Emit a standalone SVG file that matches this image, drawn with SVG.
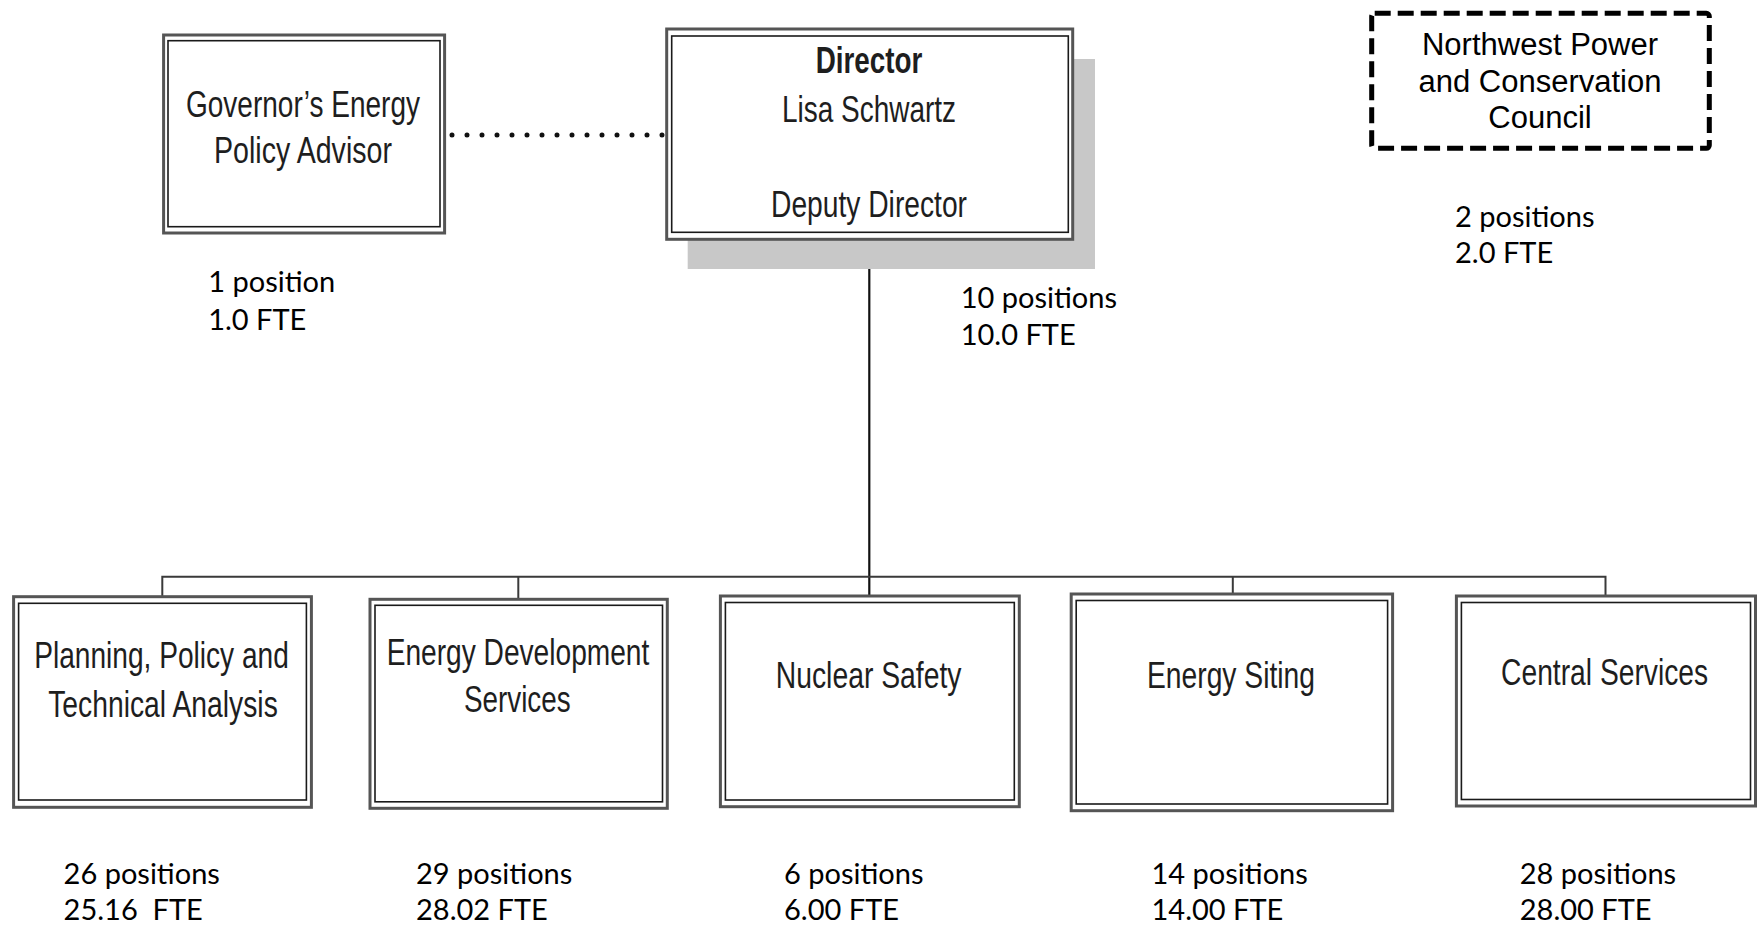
<svg xmlns="http://www.w3.org/2000/svg" width="1760" height="926" viewBox="0 0 1760 926">
<style>
  .outer { fill: #ffffff; stroke: #555555; stroke-width: 3; }
  .inner { fill: none; stroke: #1a1a1a; stroke-width: 1.6; }
  .bt { font-family: "Liberation Sans Narrow", "Liberation Sans", Arial, sans-serif; font-size: 37px; fill: #1e1e1e; text-anchor: middle; }
  .bold { font-weight: bold; }
  .nw { font-family: "Liberation Sans", Arial, sans-serif; font-size: 31px; fill: #000000; text-anchor: middle; }
  .lbl { font-family: Lato, "Open Sans", sans-serif; font-size: 29px; fill: #000000; white-space: pre; }
  .bus { fill: none; stroke: #3a3a3a; stroke-width: 2; }
  .stem { fill: none; stroke: #111111; stroke-width: 2.2; }
  .dots { fill: none; stroke: #111111; stroke-width: 5; stroke-linecap: round; stroke-dasharray: 0 15; }
</style>
<rect width="1760" height="926" fill="#ffffff"/>

<g id="connectors">
  <line class="dots" x1="452" y1="135" x2="667" y2="135"/>
  <line class="stem" x1="869.3" y1="239" x2="869.3" y2="596"/>
  <polyline class="bus" points="162.3,597 162.3,576.7 1605.5,576.7 1605.5,596"/>
  <line class="bus" x1="518.3" y1="576.7" x2="518.3" y2="599"/>
  <line class="bus" x1="1232.8" y1="576.7" x2="1232.8" y2="594"/>
</g>

<g id="governor">
  <rect class="outer" x="163.6" y="35" width="281" height="198"/>
  <rect class="inner" x="168" y="40.7" width="272" height="186"/>
  <text class="bt" x="303" y="116.7" textLength="234" lengthAdjust="spacingAndGlyphs">Governor’s Energy</text>
  <text class="bt" x="303" y="163" textLength="178" lengthAdjust="spacingAndGlyphs">Policy Advisor</text>
</g>

<g id="director">
  <rect x="687.7" y="59" width="407.3" height="210" fill="#c8c8c8"/>
  <rect class="outer" x="666.7" y="29" width="406" height="210.3"/>
  <rect class="inner" x="671.7" y="36" width="396.6" height="196.3"/>
  <text class="bt bold" x="869" y="72.7" textLength="106.7" lengthAdjust="spacingAndGlyphs">Director</text>
  <text class="bt" x="869" y="121.7" textLength="174" lengthAdjust="spacingAndGlyphs">Lisa Schwartz</text>
  <text class="bt" x="869" y="216.7" textLength="196" lengthAdjust="spacingAndGlyphs">Deputy Director</text>
</g>

<g id="nwpcc">
  <rect x="1371.7" y="13.3" width="337.6" height="135" rx="3" fill="none" stroke="#000000" stroke-width="5" stroke-dasharray="16 7"/>
  <text class="nw" x="1540" y="55">Northwest Power</text>
  <text class="nw" x="1540" y="91.5">and Conservation</text>
  <text class="nw" x="1540" y="128.3">Council</text>
</g>

<g id="planning">
  <rect class="outer" x="13.6" y="596.7" width="297.8" height="210.6"/>
  <rect class="inner" x="18.6" y="603.3" width="287.8" height="196.7"/>
  <text class="bt" x="161.5" y="668.3" textLength="254.7" lengthAdjust="spacingAndGlyphs">Planning, Policy and</text>
  <text class="bt" x="163" y="716.7" textLength="229.6" lengthAdjust="spacingAndGlyphs">Technical Analysis</text>
</g>

<g id="energy-development">
  <rect class="outer" x="370" y="599.3" width="297.3" height="209"/>
  <rect class="inner" x="375" y="605.3" width="287.5" height="196.5"/>
  <text class="bt" x="518" y="665" textLength="262.7" lengthAdjust="spacingAndGlyphs">Energy Development</text>
  <text class="bt" x="517.3" y="711.7" textLength="106.7" lengthAdjust="spacingAndGlyphs">Services</text>
</g>

<g id="nuclear-safety">
  <rect class="outer" x="720.4" y="596" width="298.9" height="210.7"/>
  <rect class="inner" x="725.4" y="602.5" width="288.9" height="197.5"/>
  <text class="bt" x="868.6" y="688.3" textLength="185.7" lengthAdjust="spacingAndGlyphs">Nuclear Safety</text>
</g>

<g id="energy-siting">
  <rect class="outer" x="1071.2" y="594" width="321.4" height="216.7"/>
  <rect class="inner" x="1076.2" y="600.5" width="311.4" height="203.5"/>
  <text class="bt" x="1231" y="688.3" textLength="168" lengthAdjust="spacingAndGlyphs">Energy Siting</text>
</g>

<g id="central-services">
  <rect class="outer" x="1456.4" y="596" width="299.1" height="210"/>
  <rect class="inner" x="1461.4" y="602.5" width="289.1" height="197"/>
  <text class="bt" x="1604.6" y="685" textLength="207" lengthAdjust="spacingAndGlyphs">Central Services</text>
</g>

<g id="labels">
  <text class="lbl" x="208.2" y="291.7">1 position</text>
  <text class="lbl" x="208.2" y="330">1.0 FTE</text>
  <text class="lbl" x="960.7" y="308.3">10 positions</text>
  <text class="lbl" x="960.7" y="345">10.0 FTE</text>
  <text class="lbl" x="1455" y="226.7">2 positions</text>
  <text class="lbl" x="1455" y="263.3">2.0 FTE</text>
  <text class="lbl" x="63.6" y="884">26 positions</text>
  <text class="lbl" x="63.6" y="920">25.16  FTE</text>
  <text class="lbl" x="416" y="884">29 positions</text>
  <text class="lbl" x="416" y="920">28.02 FTE</text>
  <text class="lbl" x="784" y="884">6 positions</text>
  <text class="lbl" x="784" y="920">6.00 FTE</text>
  <text class="lbl" x="1151.5" y="884">14 positions</text>
  <text class="lbl" x="1151.5" y="920">14.00 FTE</text>
  <text class="lbl" x="1519.8" y="884">28 positions</text>
  <text class="lbl" x="1519.8" y="920">28.00 FTE</text>
</g>
</svg>
